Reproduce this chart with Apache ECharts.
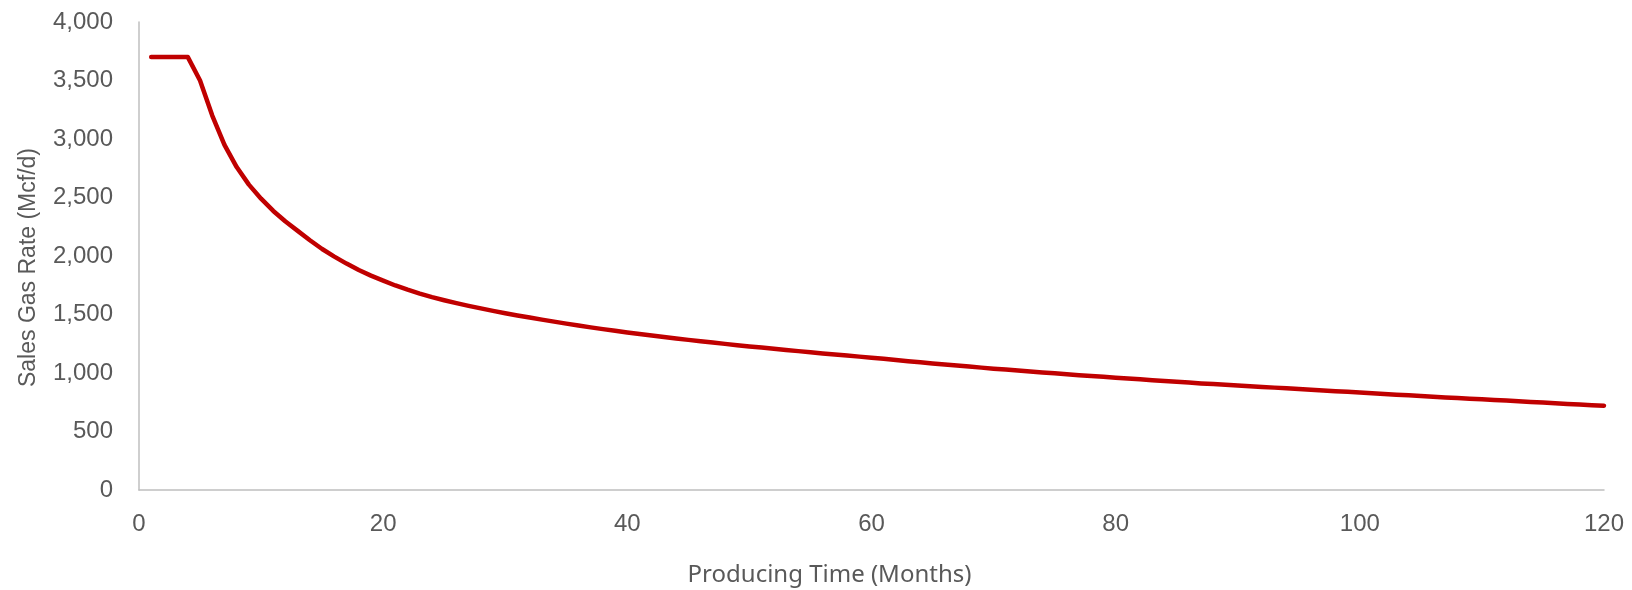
<!DOCTYPE html>
<html>
<head>
<meta charset="utf-8">
<script src="https://cdn.jsdelivr.net/npm/echarts@6/dist/echarts.min.js"></script>
<style>
html,body{margin:0;padding:0;background:#fff;}
#chart{width:1632px;height:590px;}
</style>
</head>
<body>
<div id="chart"></div>
<script>
// Producing month (x) and sales gas rate in Mcf/d (y)
const months = [
  1,2,3,4,5,6,7,8,9,10,11,12,13,14,15,16,17,18,19,20,
  21,22,23,24,25,26,27,28,29,30,31,32,33,34,35,36,37,38,39,40,
  41,42,43,44,45,46,47,48,49,50,51,52,53,54,55,56,57,58,59,60,
  61,62,63,64,65,66,67,68,69,70,71,72,73,74,75,76,77,78,79,80,
  81,82,83,84,85,86,87,88,89,90,91,92,93,94,95,96,97,98,99,100,
  101,102,103,104,105,106,107,108,109,110,111,112,113,114,115,116,117,118,119,120
];
const salesGasRate = [
  3700,3700,3700,3700,3500,3200,2950,2760,2610,2490,2385,2295,2215,2135,2060,1995,1935,1880,1832,1790,
  1748,1712,1679,1649,1622,1597,1574,1552,1531,1511,1492,1474,1456,1439,1422,1406,1390,1375,1361,1347,
  1333,1320,1307,1295,1283,1271,1260,1249,1238,1227,1217,1207,1197,1187,1177,1167,1158,1149,1140,1131,
  1121,1111,1101,1091,1082,1073,1064,1055,1046,1037,1029,1021,1013,1005,997,989,981,974,967,960,
  953,946,939,932,925,918,911,905,899,893,887,881,875,869,863,857,851,845,839,833,
  827,821,815,809,803,797,791,786,780,775,769,764,758,753,747,742,736,731,725,720
];
const xAxisTitle = 'Producing Time (Months)';
const yAxisTitle = 'Sales Gas Rate (Mcf/d)';

const chart = echarts.init(document.getElementById('chart'), null, {renderer: 'canvas'});
chart.setOption({
  animation: false,
  backgroundColor: '#ffffff',
  grid: {left: 139, right: 28, top: 22, bottom: 100, containLabel: false, outerBoundsMode: 'none'},
  xAxis: {
    type: 'value', min: 0, max: 120, interval: 20,
    name: xAxisTitle, nameLocation: 'middle', nameGap: 73,
    nameTextStyle: {color: '#595959', fontSize: 24, fontFamily: 'Noto Sans', padding: [0, 84, 0, 0]},
    axisLine: {show: true, lineStyle: {color: '#BFBFBF', width: 1.5}},
    axisTick: {show: false},
    splitLine: {show: false},
    axisLabel: {color: '#595959', fontSize: 24, fontFamily: 'Liberation Sans', margin: 22}
  },
  yAxis: {
    type: 'value', min: 0, max: 4000, interval: 500,
    name: yAxisTitle, nameLocation: 'middle', nameGap: 99,
    nameTextStyle: {color: '#595959', fontSize: 23, fontFamily: 'Liberation Sans', padding: [0, 23, 0, 0]},
    axisLine: {show: true, lineStyle: {color: '#BFBFBF', width: 1.5}},
    axisTick: {show: false},
    splitLine: {show: false},
    axisLabel: {
      color: '#595959', fontSize: 24, fontFamily: 'Liberation Sans', margin: 26,
      formatter: v => v.toLocaleString('en-US')
    }
  },
  series: [{
    type: 'line',
    data: months.map((m, i) => [m, salesGasRate[i]]),
    showSymbol: false,
    smooth: false,
    lineStyle: {color: '#C00000', width: 4.5, cap: 'round', join: 'round'},
    itemStyle: {color: '#C00000'}
  }]
});
</script>
</body>
</html>
